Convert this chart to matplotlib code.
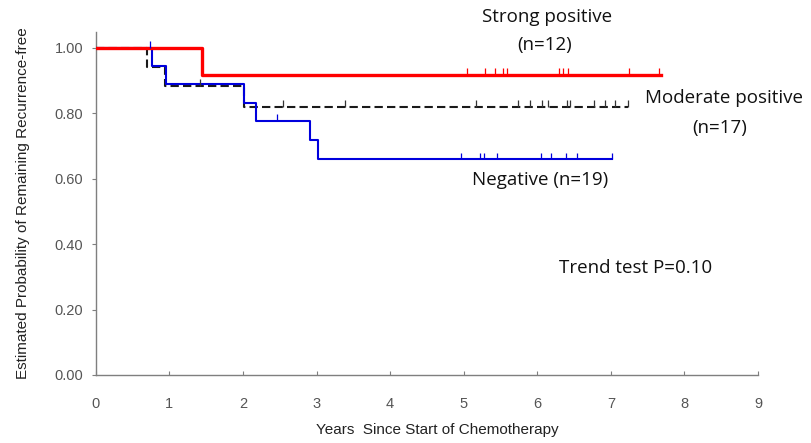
import matplotlib.pyplot as plt
import numpy as np

# step curves: (time, survival after the step)
strong_t = [0.0, 1.44, 7.68]
strong_s = [1.0, 0.917, 0.917]
strong_cens = [5.04, 5.29, 5.42, 5.53, 5.59, 6.29, 6.35, 6.42, 7.25, 7.66]

moderate_t = [0.0, 0.70, 0.94, 2.01, 7.23]
moderate_s = [1.0, 0.941, 0.884, 0.820, 0.820]
moderate_cens = [1.41, 2.54, 3.38, 5.17, 5.74, 5.90, 6.06, 6.14, 6.40, 6.44,
                 6.77, 6.92, 7.05, 7.23]

negative_t = [0.0, 0.76, 0.95, 2.01, 2.18, 2.91, 3.02, 7.02]
negative_s = [1.0, 0.944, 0.889, 0.830, 0.777, 0.718, 0.659, 0.659]
negative_cens = [0.74, 2.46, 4.97, 5.22, 5.27, 5.45, 6.05, 6.19, 6.39, 6.54, 7.02]

x_ticks = np.arange(0, 10)
y_ticks = [0.0, 0.2, 0.4, 0.6, 0.8, 1.0]


def surv_at(t, times, surv):
    idx = np.searchsorted(times, t, side='right') - 1
    return np.array(surv)[idx]


def draw_curve(ax, times, surv, cens, color, lw, ls='-', tick_color=None):
    ax.step(times, surv, where='post', color=color, lw=lw, ls=ls, zorder=3)
    cens = np.array(cens)
    s = surv_at(cens, times, surv)
    ax.vlines(cens, s, s + 0.02, color=tick_color or color, lw=0.9, zorder=4)


fig = plt.figure(figsize=(8.12, 4.43), dpi=100)
ax = fig.add_axes([0.118, 0.1535, 0.8155, 0.7745])

draw_curve(ax, moderate_t, moderate_s, moderate_cens, '#1a1a1a', 1.5,
           ls=(0, (4.0, 2.0)), tick_color='#333333')
draw_curve(ax, negative_t, negative_s, negative_cens, '#0000dd', 1.5)
draw_curve(ax, strong_t, strong_s, strong_cens, '#ff0000', 2.4)

ax.set_xlim(0, 9)
ax.set_ylim(0, 1.048)
ax.set_xticks(x_ticks)
ax.set_yticks(y_ticks)
ax.set_yticklabels([f"{v:.2f}" for v in y_ticks])

for side in ['top', 'right']:
    ax.spines[side].set_visible(False)
for side in ['left', 'bottom']:
    ax.spines[side].set_color('#7f7f7f')
    ax.spines[side].set_linewidth(1.0)

ax.tick_params(axis='y', direction='out', length=3, color='#7f7f7f',
               labelsize=10.5, labelcolor='#555555', pad=6)
ax.tick_params(axis='x', direction='in', length=3, color='#7f7f7f',
               labelsize=10.5, labelcolor='#555555', pad=16)
for lab in ax.get_xticklabels() + ax.get_yticklabels():
    lab.set_family('Liberation Sans')

ax.set_ylabel("Estimated Probability of Remaining Recurrence-free",
              family='Liberation Sans', fontsize=11, color='#222222')
ax.yaxis.set_label_coords(-0.1, 0.5)
ax.set_xlabel("Years  Since Start of Chemotherapy",
              family='Liberation Sans', fontsize=11, color='#222222')
ax.xaxis.set_label_coords(0.515, -0.14)

txt = dict(family='Open Sans', fontsize=13.5, color='#111111',
           ha='center', va='center', transform=fig.transFigure)
fig.text(547 / 812, 1 - 17 / 443, "Strong positive", **txt)
fig.text(545 / 812, 1 - 45 / 443, "(n=12)", **txt)
fig.text(724 / 812, 1 - 98 / 443, "Moderate positive", **txt)
fig.text(720 / 812, 1 - 128 / 443, "(n=17)", **txt)
fig.text(540 / 812, 1 - 180 / 443, "Negative (n=19)", **txt)
fig.text(636 / 812, 1 - 268 / 443, "Trend test P=0.10", **txt)

fig.savefig("out.png", dpi=100)
